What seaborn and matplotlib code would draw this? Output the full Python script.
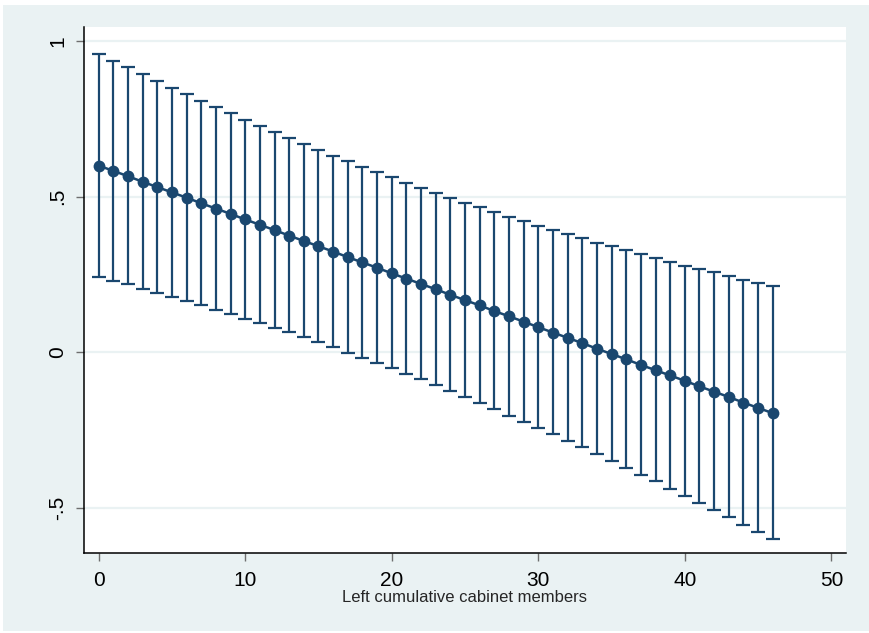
import matplotlib
matplotlib.use("Agg")
import matplotlib.pyplot as plt
from matplotlib.patches import Rectangle
import numpy as np
import pandas as pd
import seaborn as sns

sns.set_theme(style="ticks")
plt.rcParams['font.family'] = ['Liberation Sans', 'DejaVu Sans']

# cabinet members 0..46
members = list(range(47))
# point estimates
estimate = [0.600, 0.583, 0.566, 0.548, 0.531, 0.514, 0.497, 0.479, 0.462, 0.445,
            0.427, 0.410, 0.393, 0.375, 0.358, 0.341, 0.324, 0.306, 0.289, 0.272,
            0.254, 0.237, 0.220, 0.203, 0.185, 0.168, 0.151, 0.133, 0.116, 0.099,
            0.081, 0.064, 0.047, 0.030, 0.012, -0.005, -0.022, -0.040, -0.057, -0.074,
            -0.091, -0.109, -0.126, -0.143, -0.161, -0.178, -0.195]
# upper / lower confidence bounds
upper = [0.958, 0.937, 0.916, 0.894, 0.872, 0.850, 0.829, 0.807, 0.787, 0.768,
         0.746, 0.727, 0.707, 0.688, 0.669, 0.650, 0.632, 0.614, 0.595, 0.578,
         0.562, 0.545, 0.528, 0.513, 0.496, 0.481, 0.466, 0.451, 0.435, 0.423,
         0.407, 0.394, 0.380, 0.367, 0.352, 0.341, 0.328, 0.316, 0.303, 0.290,
         0.278, 0.268, 0.257, 0.245, 0.232, 0.223, 0.213]
lower = [0.241, 0.229, 0.219, 0.205, 0.191, 0.179, 0.165, 0.152, 0.137, 0.124,
         0.108, 0.095, 0.080, 0.066, 0.048, 0.033, 0.016, -0.001, -0.018, -0.035,
         -0.051, -0.069, -0.086, -0.105, -0.124, -0.144, -0.161, -0.183, -0.203, -0.222,
         -0.244, -0.263, -0.285, -0.305, -0.326, -0.349, -0.371, -0.393, -0.414, -0.439,
         -0.461, -0.484, -0.506, -0.530, -0.553, -0.576, -0.600]

yticks = [-0.5, 0, 0.5, 1]
ytick_labels = ["-.5", "0", ".5", "1"]
xticks = [0, 10, 20, 30, 40, 50]

df = pd.DataFrame({"members": members, "estimate": estimate,
                   "upper": upper, "lower": lower})

navy = "#1a476f"
bg = "#eaf2f3"

fig = plt.figure(figsize=(8.7, 6.33), dpi=100)
fig.patch.set_facecolor("white")
fig.add_artist(Rectangle((3 / 870, 2 / 633), 867 / 870, 626 / 633,
                         transform=fig.transFigure, facecolor=bg,
                         edgecolor="none", zorder=-10))
ax = fig.add_axes([84 / 870, 1 - 553 / 633, 762 / 870, 526 / 633])
ax.set_facecolor("white")

# grid lines
for yv in yticks:
    ax.axhline(yv, color=bg, lw=1.6, zorder=0)

# confidence intervals
ax.errorbar(df["members"], df["estimate"],
            yerr=[df["estimate"] - df["lower"], df["upper"] - df["estimate"]],
            fmt="none", ecolor=navy, elinewidth=1.6, capsize=5, capthick=1.6,
            zorder=2)

# point estimates
sns.lineplot(data=df, x="members", y="estimate", color=navy, lw=1.8,
             marker="o", markersize=8.5, markeredgewidth=0, ax=ax, zorder=3)

ax.set_xlim(-1, 51)
ax.set_ylim(-0.644, 1.045)
ax.set_xticks(xticks)
ax.set_yticks(yticks)
ax.set_yticklabels(ytick_labels, rotation=90, va="center")
ax.tick_params(axis="both", length=6, width=1, color="#6e6e6e",
               labelsize=15, labelcolor="black", direction="out")
ax.tick_params(axis="x", pad=7)
ax.tick_params(axis="y", pad=6)

ax.set_xlabel("Left cumulative cabinet members", fontsize=12, labelpad=0)
ax.set_ylabel("")

sns.despine(ax=ax, top=True, right=True)
for s in ["left", "bottom"]:
    ax.spines[s].set_color("black")
    ax.spines[s].set_linewidth(1.1)

fig.savefig("out.png", dpi=100, facecolor=fig.get_facecolor())
